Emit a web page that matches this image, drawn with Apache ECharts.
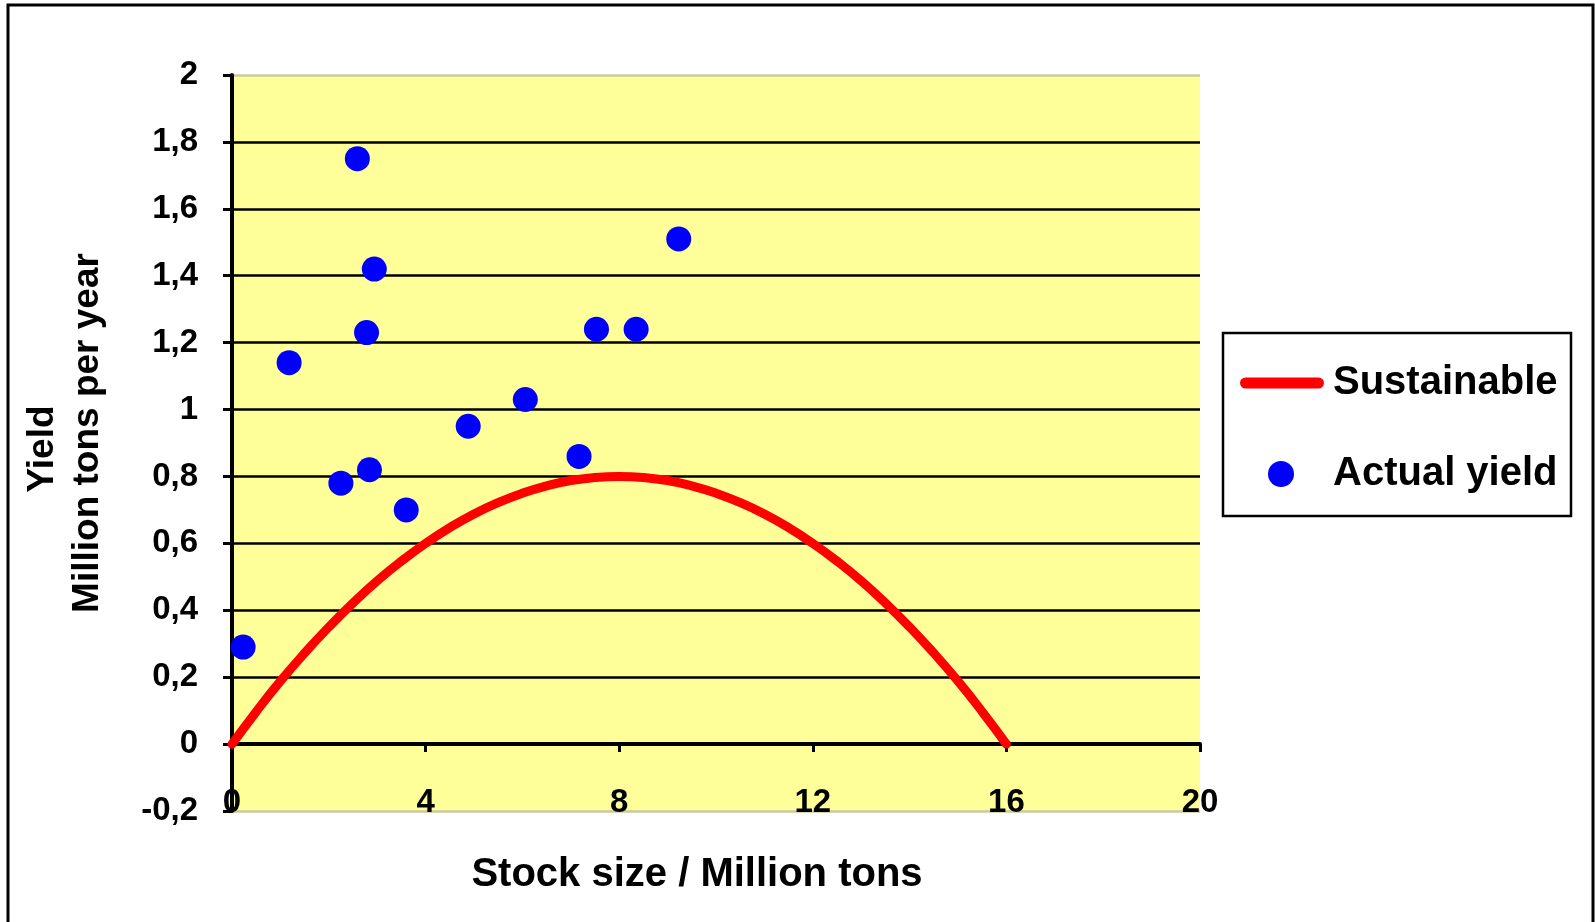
<!DOCTYPE html>
<html>
<head>
<meta charset="utf-8">
<title>Sustainable vs actual yield</title>
<script src="https://cdn.jsdelivr.net/npm/echarts@6/dist/echarts.min.js"></script>
<style>
  html, body { margin: 0; padding: 0; background: #ffffff; }
  #chart { width: 1595px; height: 922px; }
</style>
</head>
<body>
<div id="chart"></div>
<script>
// Stock size (million tons) and sustainable yield (million tons per year)
const sustainableStock = [0, 0.5, 1, 1.5, 2, 2.5, 3, 3.5, 4, 4.5, 5, 5.5, 6, 6.5, 7, 7.5, 8,
                          8.5, 9, 9.5, 10, 10.5, 11, 11.5, 12, 12.5, 13, 13.5, 14, 14.5, 15, 15.5, 16];
const sustainableYield = [0, 0.097, 0.188, 0.272, 0.350, 0.422, 0.488, 0.547, 0.600, 0.647, 0.688, 0.722, 0.750, 0.772, 0.788, 0.797, 0.800,
                          0.797, 0.788, 0.772, 0.750, 0.722, 0.688, 0.647, 0.600, 0.547, 0.488, 0.422, 0.350, 0.272, 0.188, 0.097, 0];

// Observed stock size and catch
const actualStock = [0.23, 1.18, 2.25, 2.59, 2.78, 2.84, 2.94, 3.60, 4.88, 6.06, 7.17, 7.53, 8.35, 9.23];
const actualYield = [0.29, 1.14, 0.78, 1.75, 1.23, 0.82, 1.42, 0.70, 0.95, 1.03, 0.86, 1.24, 1.24, 1.51];

// Axis tick settings
const xTicks = { min: 0, max: 20, step: 4 };
const yTicks = { min: -0.2, max: 2, step: 0.2 };

const FONT = '"Liberation Sans", Arial, sans-serif';

const curveData = sustainableStock.map((x, i) => [x, sustainableYield[i]]);
const dotData = actualStock.map((x, i) => [x, actualYield[i]]);

// one colour per horizontal gridline, bottom to top; the outer two are faint
const nLines = Math.round((yTicks.max - yTicks.min) / yTicks.step) + 1;
const gridColors = [];
for (let i = 0; i < nLines; i++) {
  gridColors.push(i === 0 || i === nLines - 1 ? '#c9c9a2' : '#000000');
}

const chart = echarts.init(document.getElementById('chart'), null, { renderer: 'canvas' });

chart.setOption({
  animation: false,
  backgroundColor: '#ffffff',
  grid: {
    left: 232, right: 395, top: 75, bottom: 111,
    outerBoundsMode: 'none',
    containLabel: false,
    show: true, backgroundColor: '#FFFF99', borderWidth: 0
  },
  xAxis: {
    type: 'value',
    min: xTicks.min, max: xTicks.max, interval: xTicks.step,
    name: 'Stock size / Million tons',
    nameLocation: 'middle',
    nameGap: 44,
    nameTextStyle: {
      fontFamily: FONT, fontWeight: 'bold', fontSize: 40, color: '#000',
      padding: [0, 38, 0, 0]
    },
    axisLine: { onZero: true, lineStyle: { color: '#000', width: 4 } },
    axisTick: { show: true, length: 8, lineStyle: { color: '#000', width: 3 } },
    axisLabel: {
      margin: -25,
      fontFamily: FONT, fontWeight: 'bold', fontSize: 33, color: '#000'
    },
    splitLine: { show: false }
  },
  yAxis: {
    type: 'value',
    min: yTicks.min, max: yTicks.max, interval: yTicks.step,
    name: '{a|Yield}\n{b|Million tons per year}',
    nameLocation: 'middle',
    nameRotate: 90,
    nameGap: 122,
    nameTextStyle: {
      fontFamily: FONT, fontWeight: 'bold', fontSize: 37, color: '#000',
      lineHeight: 45, align: 'center',
      rich: {
        a: { fontFamily: FONT, fontWeight: 'bold', fontSize: 37, color: '#000', lineHeight: 45, padding: [0, 12, 0, 0] },
        b: { fontFamily: FONT, fontWeight: 'bold', fontSize: 37, color: '#000', lineHeight: 45, padding: [0, 0, 0, 20] }
      }
    },
    axisLine: { show: true, onZero: false, lineStyle: { color: '#000', width: 4 } },
    axisTick: { show: true, length: 9, lineStyle: { color: '#000', width: 3 } },
    axisLabel: {
      margin: 34,
      fontFamily: FONT, fontWeight: 'bold', fontSize: 33, color: '#000',
      formatter: v => String(+v.toFixed(1)).replace('.', ',')
    },
    splitLine: {
      show: true, showMinLine: true, showMaxLine: true,
      lineStyle: { color: gridColors, width: 2.5 }
    }
  },
  legend: [
    {
      data: ['Sustainable'],
      left: 1240, top: 363, padding: 0,
      itemWidth: 84, itemHeight: 11,
      icon: 'path://M5.5,0 L78.5,0 A5.5,5.5 0 0 1 78.5,11 L5.5,11 A5.5,5.5 0 0 1 5.5,0 Z',
      selectedMode: false,
      textStyle: { fontFamily: FONT, fontWeight: 'bold', fontSize: 40, color: '#000', padding: [0, 0, 0, 4] }
    },
    {
      data: ['Actual yield'],
      left: 1268, top: 454, padding: 0,
      itemWidth: 26, itemHeight: 26,
      icon: 'circle',
      selectedMode: false,
      itemStyle: { opacity: 1 },
      textStyle: { fontFamily: FONT, fontWeight: 'bold', fontSize: 40, color: '#000', padding: [0, 0, 0, 34] }
    }
  ],
  series: [
    {
      name: 'Sustainable',
      type: 'line',
      data: curveData,
      smooth: true,
      showSymbol: false,
      symbol: 'none',
      itemStyle: { color: '#FF0000' },
      lineStyle: { color: '#FF0000', width: 9, cap: 'round' },
      z: 3
    },
    {
      name: 'Actual yield',
      type: 'scatter',
      data: dotData,
      symbol: 'circle',
      symbolSize: 25,
      itemStyle: { color: '#0000FF', opacity: 1 },
      z: 4
    }
  ],
  graphic: [
    {
      type: 'rect',
      shape: { x: 1223, y: 333, width: 348, height: 183 },
      style: { fill: 'none', stroke: '#000', lineWidth: 2.5 },
      silent: true
    },
    {
      type: 'rect',
      shape: { x: 8, y: 5, width: 1585, height: 930 },
      style: { fill: 'none', stroke: '#000', lineWidth: 3 },
      silent: true
    }
  ]
});
</script>
</body>
</html>
